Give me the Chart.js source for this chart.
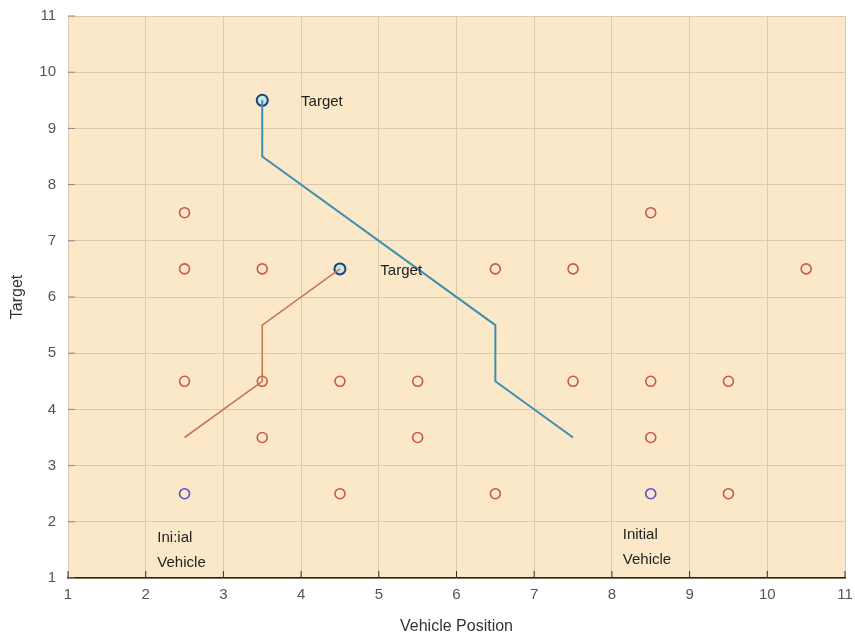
<!DOCTYPE html>
<html>
<head>
<meta charset="utf-8">
<script src="https://cdn.jsdelivr.net/npm/chart.js@4/dist/chart.umd.min.js"></script>
<style>
  html, body { margin: 0; padding: 0; background: #fff; }
  #wrap { width: 855px; height: 640px; }
</style>
</head>
<body>
<div id="wrap"><canvas id="route-chart"></canvas></div>
<script>
// grid values
const xTicks = [1, 2, 3, 4, 5, 6, 7, 8, 9, 10, 11];
const yTicks = [1, 2, 3, 4, 5, 6, 7, 8, 9, 10, 11];

// obstacles (red circles)
const obstacleX = [2.5, 8.5, 2.5, 3.5, 6.5, 7.5, 10.5, 2.5, 3.5, 4.5, 5.5, 7.5, 8.5, 9.5, 3.5, 5.5, 8.5, 4.5, 6.5, 9.5];
const obstacleY = [7.5, 7.5, 6.5, 6.5, 6.5, 6.5, 6.5, 4.5, 4.5, 4.5, 4.5, 4.5, 4.5, 4.5, 3.5, 3.5, 3.5, 2.5, 2.5, 2.5];

// start and goal points
const vehicleX = [2.5, 8.5];
const vehicleY = [2.5, 2.5];
const targetX = [3.5, 4.5];
const targetY = [9.5, 6.5];

// routes
const pathAX = [7.5, 6.5, 6.5, 3.5, 3.5];
const pathAY = [3.5, 4.5, 5.5, 8.5, 9.5];
const pathBX = [2.5, 3.5, 3.5, 4.5];
const pathBY = [3.5, 4.5, 5.5, 6.5];

// text notes
const noteText = [["Target"], ["Target"], ["Ini:ial", "Vehicle"], ["Initial", "Vehicle"]];
const noteX = [4.0, 5.02, 2.15, 8.14];
const noteY = [9.47, 6.46, 1.71, 1.76];

const toPts = (xs, ys) => xs.map((x, i) => ({ x: x, y: ys[i] }));

const plotBg = {
  id: 'plotBg',
  beforeDraw(chart) {
    const { ctx, chartArea: a } = chart;
    ctx.save();
    ctx.fillStyle = '#fbe8c9';
    ctx.fillRect(a.left, a.top, a.right - a.left, a.bottom - a.top);
    ctx.restore();
  }
};

const notes = {
  id: 'notes',
  afterDatasetsDraw(chart) {
    const { ctx, scales } = chart;
    ctx.save();
    ctx.fillStyle = '#222';
    ctx.font = '15px "Liberation Sans", Arial, sans-serif';
    ctx.textAlign = 'left';
    ctx.textBaseline = 'middle';
    noteText.forEach((lines, i) => {
      const px = scales.x.getPixelForValue(noteX[i]);
      const py = scales.y.getPixelForValue(noteY[i]);
      lines.forEach((t, j) => ctx.fillText(t, px, py + j * 25));
    });
    // inward tick marks like the original
    const a = chart.chartArea;
    ctx.strokeStyle = '#333';
    ctx.lineWidth = 1;
    xTicks.forEach(v => {
      const px = scales.x.getPixelForValue(v);
      ctx.beginPath();
      ctx.moveTo(px, a.bottom);
      ctx.lineTo(px, a.bottom - 7);
      ctx.stroke();
    });
    ctx.strokeStyle = '#888';
    yTicks.forEach(v => {
      const py = scales.y.getPixelForValue(v);
      ctx.beginPath();
      ctx.moveTo(a.left, py);
      ctx.lineTo(a.left + 7, py);
      ctx.stroke();
    });
    ctx.restore();
  }
};

const ctx = document.getElementById('route-chart').getContext('2d');
const myChart = new Chart(ctx, {
  type: 'scatter',
  data: {
    datasets: [
      {
        label: 'Path A',
        data: toPts(pathAX, pathAY),
        showLine: true,
        borderColor: '#3f8fae',
        borderWidth: 2,
        pointRadius: 0,
        fill: false
      },
      {
        label: 'Path B',
        data: toPts(pathBX, pathBY),
        showLine: true,
        borderColor: '#c47a52',
        borderWidth: 1.6,
        pointRadius: 0,
        fill: false
      },
      {
        label: 'Obstacles',
        data: toPts(obstacleX, obstacleY),
        pointStyle: 'circle',
        pointRadius: 5,
        pointBorderWidth: 1.6,
        borderColor: '#c85a45',
        backgroundColor: 'rgba(0,0,0,0)'
      },
      {
        label: 'Initial Vehicle',
        data: toPts(vehicleX, vehicleY),
        pointStyle: 'circle',
        pointRadius: 5,
        pointBorderWidth: 1.6,
        borderColor: '#5a50d0',
        backgroundColor: 'rgba(0,0,0,0)'
      },
      {
        label: 'Target',
        data: toPts(targetX, targetY),
        pointStyle: 'circle',
        pointRadius: 5.5,
        pointBorderWidth: 2,
        borderColor: '#1d3f7a',
        backgroundColor: '#c8e6e6'
      }
    ]
  },
  options: {
    responsive: true,
    maintainAspectRatio: false,
    animation: false,
    layout: { padding: { top: 16, right: 10, left: 0, bottom: 0 } },
    plugins: {
      legend: { display: false },
      tooltip: { enabled: false }
    },
    scales: {
      x: {
        type: 'linear',
        min: 1,
        max: 11,
        afterBuildTicks: (s) => { s.ticks = xTicks.map(v => ({ value: v })); },
        afterFit: (s) => { s.height = 62; s.paddingRight = 0; s.paddingLeft = 0; },
        grid: { color: '#d9cbb0', lineWidth: 1, drawTicks: false },
        border: { display: true, color: '#222', width: 1.5 },
        ticks: { color: '#555', font: { size: 15, family: '"Liberation Sans", Arial' }, padding: 8 },
        title: { display: true, text: 'Vehicle Position', color: '#333', font: { size: 16, family: '"Liberation Sans", Arial' }, padding: { top: 2 } }
      },
      y: {
        type: 'linear',
        min: 1,
        max: 11,
        afterBuildTicks: (s) => { s.ticks = yTicks.map(v => ({ value: v })); },
        afterFit: (s) => { s.width = 68; s.paddingTop = 0; s.paddingBottom = 0; },
        grid: { color: '#d9cbb0', lineWidth: 1, drawTicks: false },
        border: { display: false },
        ticks: { color: '#555', font: { size: 15, family: '"Liberation Sans", Arial' }, padding: 12 },
        title: { display: true, text: 'Target', color: '#333', font: { size: 16, family: '"Liberation Sans", Arial' }, padding: { top: 8, bottom: 4 } }
      }
    }
  },
  plugins: [plotBg, notes]
});
</script>
</body>
</html>
